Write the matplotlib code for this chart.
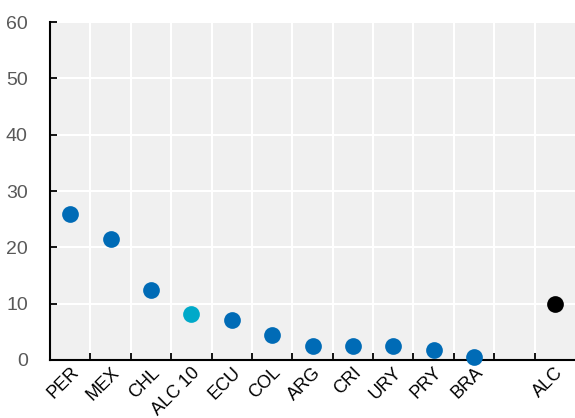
import matplotlib.pyplot as plt
import numpy as np

plt.rcParams['font.family'] = ['Liberation Sans Narrow', 'Liberation Sans', 'DejaVu Sans']

# Países y valores
paises = ['PER', 'MEX', 'CHL', 'ALC 10', 'ECU', 'COL', 'ARG', 'CRI', 'URY', 'PRY', 'BRA', '', 'ALC']
valores = [26.0, 21.5, 12.4, 8.2, 7.0, 4.4, 2.5, 2.5, 2.5, 1.8, 0.5, np.nan, 9.9]
colores = ['#006bb6'] * 3 + ['#00a9c9'] + ['#006bb6'] * 7 + ['none', '#000000']

fig = plt.figure(figsize=(5.75, 4.18), dpi=100)
ax = fig.add_axes([0.087, 0.139, 0.913, 0.808])
ax.set_facecolor('#f0f0f0')

x = np.arange(len(paises))
for xi, v, c in zip(x, valores, colores):
    if np.isnan(v):
        continue
    ax.scatter(xi, v, s=145, color=c, zorder=3, clip_on=False, linewidths=0)

ax.set_xlim(-0.5, len(paises) - 0.5)
ax.set_ylim(0, 60)

# lineas de grilla blancas entre categorías
ax.set_yticks(np.arange(0, 61, 10))
ax.set_xticks(x[:-1] + 0.5)
ax.set_xticklabels([])
ax.set_xticks(x, minor=True)
ax.set_xticklabels(paises, minor=True, rotation=45, ha='right', rotation_mode='anchor', fontsize=13)
ax.tick_params(axis='x', which='minor', length=0, pad=3)
ax.tick_params(axis='x', which='major', direction='in', length=5, width=1.3)
ax.tick_params(axis='y', direction='in', length=5, width=1.3, labelsize=14,
               labelcolor='#595959', pad=16)
ax.grid(True, which='major', color='white', linewidth=1.5)
ax.set_axisbelow(True)

for s in ['top', 'right']:
    ax.spines[s].set_visible(False)
for s in ['left', 'bottom']:
    ax.spines[s].set_linewidth(1.5)
    ax.spines[s].set_color('black')

fig.savefig('out.png', dpi=100)
